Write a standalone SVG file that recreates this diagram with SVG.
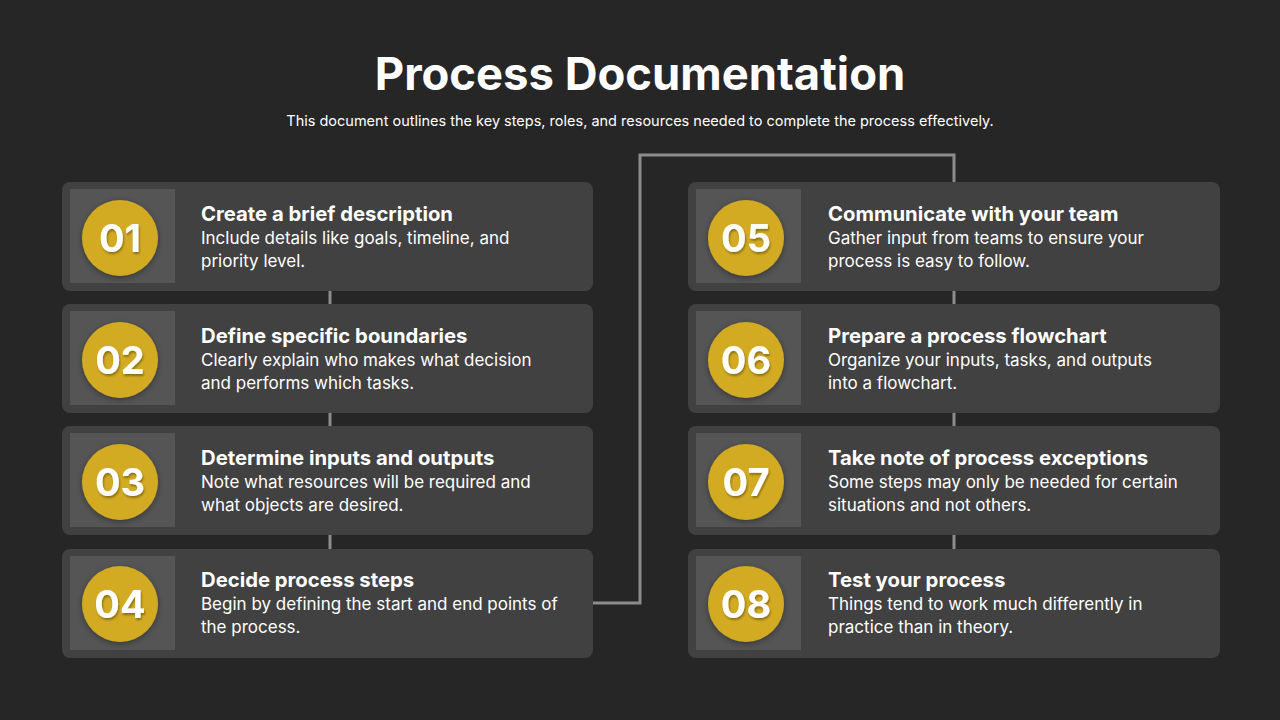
<svg xmlns="http://www.w3.org/2000/svg" width="1280" height="720" viewBox="0 0 1280 720">
<defs>
<style>
.card{fill:#414141}
.sq{fill:#555555}
.num-c{fill:#D3AB22}
.num{font-family:Inter,"Liberation Sans",sans-serif;font-weight:700;font-size:38px;fill:#ffffff;text-anchor:middle}
.h{font-family:Inter,"Liberation Sans",sans-serif;font-weight:700;font-size:20.3px;fill:#ffffff}
.b{font-family:Inter,"Liberation Sans",sans-serif;font-size:17px;fill:#ffffff}
.conn{fill:none;stroke:#8c8c8c;stroke-width:3}
</style>
<filter id="sh" x="-30%" y="-30%" width="160%" height="160%">
<feDropShadow dx="0" dy="2" stdDeviation="3" flood-color="#000" flood-opacity="0.35"/>
</filter>
<filter id="ts" x="-20%" y="-20%" width="140%" height="140%">
<feDropShadow dx="1" dy="2" stdDeviation="1" flood-color="#000" flood-opacity="0.35"/>
</filter>
</defs>
<rect width="1280" height="720" fill="#262626"/>
<text x="640" y="90" font-family="Inter,'Liberation Sans',sans-serif" font-weight="700" font-size="45.4" fill="#ffffff" text-anchor="middle">Process Documentation</text>
<text x="640" y="126" font-family="Inter,'Liberation Sans',sans-serif" font-size="14.5" fill="#ffffff" text-anchor="middle">This document outlines the key steps, roles, and resources needed to complete the process effectively.</text>
<g id="connectors">
<line class="conn" x1="330" y1="240" x2="330" y2="600"/>
<line class="conn" x1="954" y1="182" x2="954" y2="600"/>
<polyline class="conn" points="593,603 640,603 640,155 954,155 954,182"/>
</g>
<g id="node-01">
<rect class="card" x="62" y="182" width="531" height="109" rx="8"/>
<rect class="sq" x="70" y="189" width="105" height="94"/>
<circle class="num-c" cx="120" cy="238" r="38" filter="url(#sh)"/>
<text class="num" x="120" y="252" filter="url(#ts)">01</text>
<text class="h" x="201" y="221">Create a brief description</text>
<text class="b" x="201" y="244">Include details like goals, timeline, and</text>
<text class="b" x="201" y="267">priority level.</text>
</g>
<g id="node-02">
<rect class="card" x="62" y="304" width="531" height="109" rx="8"/>
<rect class="sq" x="70" y="311" width="105" height="94"/>
<circle class="num-c" cx="120" cy="360" r="38" filter="url(#sh)"/>
<text class="num" x="120" y="374" filter="url(#ts)">02</text>
<text class="h" x="201" y="343">Define specific boundaries</text>
<text class="b" x="201" y="366">Clearly explain who makes what decision</text>
<text class="b" x="201" y="389">and performs which tasks.</text>
</g>
<g id="node-03">
<rect class="card" x="62" y="426" width="531" height="109" rx="8"/>
<rect class="sq" x="70" y="433" width="105" height="94"/>
<circle class="num-c" cx="120" cy="482" r="38" filter="url(#sh)"/>
<text class="num" x="120" y="496" filter="url(#ts)">03</text>
<text class="h" x="201" y="465">Determine inputs and outputs</text>
<text class="b" x="201" y="488">Note what resources will be required and</text>
<text class="b" x="201" y="511">what objects are desired.</text>
</g>
<g id="node-04">
<rect class="card" x="62" y="549" width="531" height="109" rx="8"/>
<rect class="sq" x="70" y="556" width="105" height="94"/>
<circle class="num-c" cx="120" cy="604" r="38" filter="url(#sh)"/>
<text class="num" x="120" y="618" filter="url(#ts)">04</text>
<text class="h" x="201" y="587">Decide process steps</text>
<text class="b" x="201" y="610">Begin by defining the start and end points of</text>
<text class="b" x="201" y="633">the process.</text>
</g>
<g id="node-05">
<rect class="card" x="688" y="182" width="532" height="109" rx="8"/>
<rect class="sq" x="696" y="189" width="105" height="94"/>
<circle class="num-c" cx="746" cy="238" r="38" filter="url(#sh)"/>
<text class="num" x="746" y="252" filter="url(#ts)">05</text>
<text class="h" x="828" y="221">Communicate with your team</text>
<text class="b" x="828" y="244">Gather input from teams to ensure your</text>
<text class="b" x="828" y="267">process is easy to follow.</text>
</g>
<g id="node-06">
<rect class="card" x="688" y="304" width="532" height="109" rx="8"/>
<rect class="sq" x="696" y="311" width="105" height="94"/>
<circle class="num-c" cx="746" cy="360" r="38" filter="url(#sh)"/>
<text class="num" x="746" y="374" filter="url(#ts)">06</text>
<text class="h" x="828" y="343">Prepare a process flowchart</text>
<text class="b" x="828" y="366">Organize your inputs, tasks, and outputs</text>
<text class="b" x="828" y="389">into a flowchart.</text>
</g>
<g id="node-07">
<rect class="card" x="688" y="426" width="532" height="109" rx="8"/>
<rect class="sq" x="696" y="433" width="105" height="94"/>
<circle class="num-c" cx="746" cy="482" r="38" filter="url(#sh)"/>
<text class="num" x="746" y="496" filter="url(#ts)">07</text>
<text class="h" x="828" y="465">Take note of process exceptions</text>
<text class="b" x="828" y="488">Some steps may only be needed for certain</text>
<text class="b" x="828" y="511">situations and not others.</text>
</g>
<g id="node-08">
<rect class="card" x="688" y="549" width="532" height="109" rx="8"/>
<rect class="sq" x="696" y="556" width="105" height="94"/>
<circle class="num-c" cx="746" cy="604" r="38" filter="url(#sh)"/>
<text class="num" x="746" y="618" filter="url(#ts)">08</text>
<text class="h" x="828" y="587">Test your process</text>
<text class="b" x="828" y="610">Things tend to work much differently in</text>
<text class="b" x="828" y="633">practice than in theory.</text>
</g>
</svg>
